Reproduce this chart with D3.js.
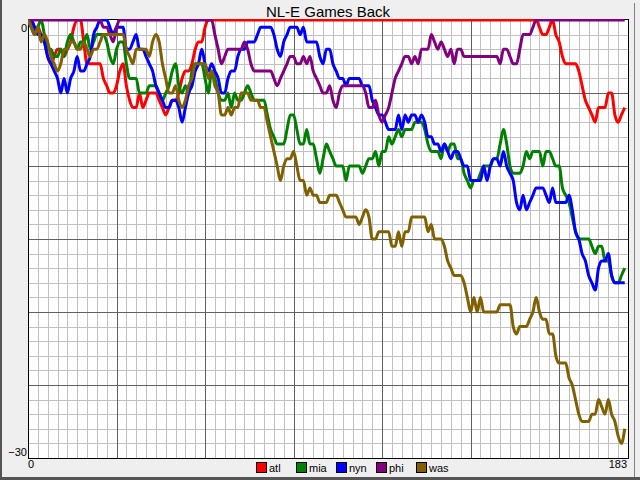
<!DOCTYPE html>
<html><head><meta charset="utf-8">
<script src="https://cdn.jsdelivr.net/npm/d3@7"></script>
<style>
html,body{margin:0;padding:0;background:#efefef;}
svg{display:block;font-family:"Liberation Sans",Arial,sans-serif;}
</style></head><body>
<svg id="c" width="640" height="480"></svg>
<script>
const teams = ["atl","mia","nyn","phi","was"];
const colors = ["#ff0000","#008000","#0000ff","#800080","#806000"];
const titleText = "NL-E Games Back";
const yTickValues = [0,-30];
const yTickLabels = ["0","\u221230"];
const xTickValues = [0,183];
const xTickLabels = ["0","183"];

const atl = [
0,0,-0.5,-0.5,-1,-1.5,-2.5,-3,-2.5,-2,
-2,-2.5,-2,-1.5,-0.5,0,0,-1.5,-3,-3,
-3,-3,-3,-4,-4.5,-5,-5,-4.5,-3.5,-3,
-4.5,-5.5,-6,-6,-5,-6,-5.5,-5,-5,-5,
-5.5,-6,-6.5,-6,-5.5,-5.5,-5,-4,-3.5,-3.5,
-3,-2,-1.5,-1.5,-0.5,0,0,0,0,0,
0,0,0,0,0,0,0,0,0,0,
0,0,0,0,0,0,0,0,0,0,
0,0,0,0,0,0,0,0,0,0,
0,0,0,0,0,0,0,0,0,0,
0,0,0,0,0,0,0,0,0,0,
0,0,0,0,0,0,0,0,0,0,
0,0,0,0,0,0,0,0,0,0,
0,0,0,0,0,0,0,0,0,0,
0,0,0,0,0,0,0,0,0,0,
0,0,0,0,0,0,-0.5,-1,-1,-0.5,
0,-1,-1.5,-2.5,-3,-3,-3,-3,-3.5,-4.5,
-5.5,-6,-6.5,-7,-6,-6,-6,-5,-5,-6.5,
-7,-6.5,-6];

const mia = [
0,-0.5,-1,-0.5,0,-1,-2,-2,-2.5,-2.5,
-2,-2.5,-1.5,-1,-1.5,-2,-1.5,-1.5,-1,-2,
-1.5,-1,-1,-1,-1.5,-2.5,-3,-2,-1.5,-1.5,
-3,-4,-4,-4,-5,-5,-5,-4.5,-4.5,-4.5,
-5,-5.5,-5,-4.5,-3.5,-3,-4.5,-5,-4.5,-5,
-3.5,-3,-3,-3,-4,-5,-3.5,-4,-5,-5.5,
-5.5,-5,-6,-5,-5.5,-5.5,-5,-4.5,-5,-5.5,
-5.5,-5.5,-5.5,-6.5,-7.5,-8,-8.5,-8.5,-8.5,-7.5,
-6.5,-6.5,-7.5,-8.5,-8.5,-7.5,-8.5,-8.5,-9.5,-10.5,
-9.5,-8.5,-9,-9.5,-10,-10,-10,-11,-10,-10,
-10,-10,-10.5,-10,-9.5,-9.5,-9,-10,-9,-9,
-8,-8.5,-8,-7.5,-8,-7.5,-7.5,-7.5,-7,-7,
-7,-7.5,-8.5,-9,-9,-9,-9.5,-8.5,-9,-8.5,
-8.5,-9.5,-9.5,-10.5,-11,-11.5,-11,-11,-10.5,-10,
-10,-10,-9.5,-9.5,-8.5,-7.5,-8.5,-10,-10.5,-10.5,
-10.5,-10,-9,-9.5,-9,-9,-9,-10,-9,-9,
-9.5,-10,-10,-11.5,-12,-12.5,-13.5,-14.5,-15,-15,
-15,-15,-15.5,-16,-15.5,-15.5,-16.5,-16.5,-17.5,-18,
-18,-17.5,-17];

const nyn = [
0,0,-0.5,-1,-1,-1.5,-2.5,-3,-3.5,-4,
-5,-4,-5,-4,-3.5,-2.5,-3.5,-3.5,-3,-2.5,
-1,-0.5,0,0,0,-0.5,-1,-0.5,-0.5,-0.5,
-2,-2,-1.5,-1,-2,-2,-2.5,-3,-3.5,-4.5,
-5,-5.5,-6,-6,-5.5,-5.5,-6,-7,-6,-5,
-4.5,-3.5,-3,-2,-3,-3.5,-3,-3.5,-4,-5,
-5,-4,-3.5,-3.5,-2.5,-2,-2,-1.5,-1.5,-1.5,
-1,-0.5,-0.5,-0.5,-0.5,-1,-2,-2.5,-1.5,-1,
-0.5,-0.5,-0.5,-1,-0.5,-1.5,-1.5,-1.5,-1.5,-2.5,
-3,-2,-2,-3,-3.5,-4,-4,-4.5,-4,-4,
-4,-4,-4.5,-4.5,-4.5,-5.5,-6,-6.5,-6.5,-7,
-7.5,-7.5,-7.5,-6.5,-7.5,-6.5,-7,-6.5,-6.5,-7,
-6.5,-7,-8,-8,-8.5,-8.5,-9,-8.5,-9,-9.5,
-9,-9,-9.5,-10,-10,-11,-11,-11,-11,-10,
-11,-10,-9.5,-9.5,-10,-9,-10,-10.5,-11,-12.5,
-13,-12,-13,-12.5,-12,-11.5,-11.5,-11.5,-12,-12.5,
-11.5,-12.5,-12.5,-12.5,-12.5,-12,-13,-14.5,-15,-16,
-16.5,-17.5,-18,-18.5,-17,-16.5,-16.5,-16,-17.5,-18,
-18,-18,-18];

const phi = [
0,0,0,0,0,0,0,0,0,0,
0,0,0,0,0,0,0,0,0,0,
0,0,0,-0.5,-0.5,-1,-1.5,-0.5,0,0,
0,0,0,0,0,0,0,0,0,0,
0,0,0,0,0,0,0,0,0,0,
0,0,0,0,0,0,0,-1,-2,-3,
-2.5,-2,-2,-2,-2,-2,-1.5,-2,-3,-3.5,
-3.5,-3.5,-3.5,-3.5,-3.5,-4,-4.5,-4,-3.5,-3,
-2.5,-2.5,-3,-3,-2.5,-3,-2.5,-3.5,-4,-4.5,
-5,-5,-4.5,-5.5,-6,-5,-4.5,-4.5,-4.5,-4.5,
-4.5,-4.5,-4.5,-5,-6,-6,-5.5,-6.5,-7,-6.5,
-6,-5,-4,-3.5,-3,-2.5,-2.5,-3,-2.5,-3,
-2,-2,-2,-1,-1.5,-2,-1.5,-2,-2.5,-2,
-3,-2,-2,-2.5,-2.5,-2.5,-2.5,-2.5,-2.5,-2.5,
-2.5,-2.5,-2.5,-2.5,-3,-2,-2,-2.5,-3,-3,
-2,-1,-1,-1,-0.5,0,0,0,0,0,
0,0,0,0,0,0,0,0,0,0,
0,0,0,0,0,0,0,0,0,0,
0,0,0];

const was = [
0,-0.5,-1,-0.5,-1.5,-1,-1.5,-2.5,-3,-3.5,
-3,-2,-2,-1.5,-1.5,-2,-2,-1.5,-2,-2.5,
-2,-2,-1.5,-1,-1,-1,-1,-1,-1,-1,
-2,-2.5,-3,-2,-2,-2,-2,-2.5,-1.5,-1,
-1.5,-3,-4,-5,-5,-4.5,-5.5,-6,-5.5,-4.5,
-4,-3,-3,-3,-3,-4,-3.5,-4.5,-5,-6.5,
-6.5,-6,-6.5,-6,-6,-5,-5,-5,-5.5,-5.5,
-5.5,-6,-6,-7,-8,-9,-10,-11,-10,-9.5,
-9.5,-9,-10,-11,-11,-12,-11.5,-12,-12,-12.5,
-12.5,-12.5,-12,-12,-12,-12.5,-13,-13.5,-13.5,-13.5,
-13.5,-14,-13.5,-13,-13.5,-15,-15,-14.5,-14.5,-14.5,
-14.5,-15.5,-15.5,-14.5,-15.5,-14.5,-14.5,-13.5,-13.5,-13.5,
-13.5,-13.5,-14.5,-14,-15,-15,-15,-15.5,-16.5,-17,
-17.5,-17.5,-17.5,-18,-19,-20,-19,-20,-19,-20,
-20,-20,-20,-20,-19.5,-19.5,-19.5,-19.5,-21,-21.5,
-21,-21,-21,-20.5,-20,-19,-20,-20.5,-20.5,-21.5,
-21.5,-23,-23.5,-23.5,-23.5,-24.5,-25,-26,-27,-27.5,
-27.5,-27.5,-27,-27,-26,-26.5,-27,-26,-27,-27.5,
-28.5,-29,-28];

const series = [atl, mia, nyn, phi, was];

const W = 640, H = 480;
const L = 28, R = 628, T = 20, B = 458;
const svg = d3.select("#c");

// window frame
svg.append("rect").attr("x",0).attr("y",0).attr("width",W).attr("height",H).attr("fill","#efefef");
svg.append("line").attr("x1",1).attr("y1",0).attr("x2",1).attr("y2",H).attr("stroke","#555").attr("stroke-width",2);
svg.append("line").attr("x1",0).attr("y1",H-1.5).attr("x2",W).attr("y2",H-1.5).attr("stroke","#555").attr("stroke-width",3);
svg.append("line").attr("x1",634.5).attr("y1",3).attr("x2",634.5).attr("y2",H-3).attr("stroke","#808080").attr("stroke-width",1);

const x = d3.scaleLinear().domain([0,183]).range([L,R]);
const y = d3.scaleLinear().domain([-30,0]).range([B,T]);

svg.append("rect").attr("x",L).attr("y",T).attr("width",R-L).attr("height",B-T).attr("fill","#fff");

const minorX = d3.range(3,183,3).filter(d=>d%27!==0);
const majorX = d3.range(27,183,27);
const minorY = d3.range(-29,0,1).filter(d=>d%5!==0);
const majorY = d3.range(-25,0,5);

function grid(g){ g.select(".domain").remove(); g.selectAll("text").remove(); }

svg.append("g").attr("transform",`translate(0,${B})`)
  .call(d3.axisBottom(x).tickValues(minorX).tickSize(-(B-T)).tickFormat(""))
  .call(grid).selectAll("line").attr("stroke","#c0c0c0").attr("shape-rendering","crispEdges");
svg.append("g").attr("transform",`translate(${L},0)`)
  .call(d3.axisLeft(y).tickValues(minorY).tickSize(-(R-L)).tickFormat(""))
  .call(grid).selectAll("line").attr("stroke","#c0c0c0").attr("shape-rendering","crispEdges");
svg.append("g").attr("transform",`translate(0,${B})`)
  .call(d3.axisBottom(x).tickValues(majorX).tickSize(-(B-T)).tickFormat(""))
  .call(grid).selectAll("line").attr("stroke","#606060").attr("shape-rendering","crispEdges");
svg.append("g").attr("transform",`translate(${L},0)`)
  .call(d3.axisLeft(y).tickValues(majorY).tickSize(-(R-L)).tickFormat(""))
  .call(grid).selectAll("line").attr("stroke","#606060").attr("shape-rendering","crispEdges");

// plot border
svg.append("rect").attr("x",L+0.5).attr("y",T-0.5).attr("width",R-L).attr("height",B-T+0.5)
  .attr("fill","none").attr("stroke","#000").attr("shape-rendering","crispEdges");

svg.append("clipPath").attr("id","clip").append("rect")
  .attr("x",L).attr("y",T-1).attr("width",R-L).attr("height",B-T+1);

const line = d3.line().x((d,i)=>x(i)).y(d=>y(d)).curve(d3.curveMonotoneX);
const lg = svg.append("g").attr("clip-path","url(#clip)");
series.forEach((s,k)=>{
  lg.append("path").datum(s).attr("d",line).attr("fill","none")
    .attr("stroke",colors[k]).attr("stroke-width",3).attr("stroke-linejoin","round");
});

// title
svg.append("text").attr("x",(L+R)/2).attr("y",17).attr("text-anchor","middle")
  .attr("font-size",15).attr("fill","#000").text(titleText);

// y labels
svg.append("text").attr("x",L-1).attr("y",y(yTickValues[0])+12).attr("text-anchor","end")
  .attr("font-size",11).text(yTickLabels[0]);
svg.append("text").attr("x",L-1).attr("y",y(yTickValues[1])-2).attr("text-anchor","end")
  .attr("font-size",11).text(yTickLabels[1]);
// x labels
svg.append("text").attr("x",x(xTickValues[0])).attr("y",B+10).attr("text-anchor","start")
  .attr("font-size",11).text(xTickLabels[0]);
svg.append("text").attr("x",x(xTickValues[1])-1).attr("y",B+10).attr("text-anchor","end")
  .attr("font-size",11).text(xTickLabels[1]);

// legend
const leg = svg.append("g");
teams.forEach((t,k)=>{
  const gx = 256 + k*40;
  leg.append("rect").attr("x",gx+0.5).attr("y",462.5).attr("width",10).attr("height",10)
    .attr("fill",colors[k]).attr("stroke","#000").attr("shape-rendering","crispEdges");
  leg.append("text").attr("x",gx+13).attr("y",471.5).attr("font-size",11).text(t);
});
</script>
</body></html>
